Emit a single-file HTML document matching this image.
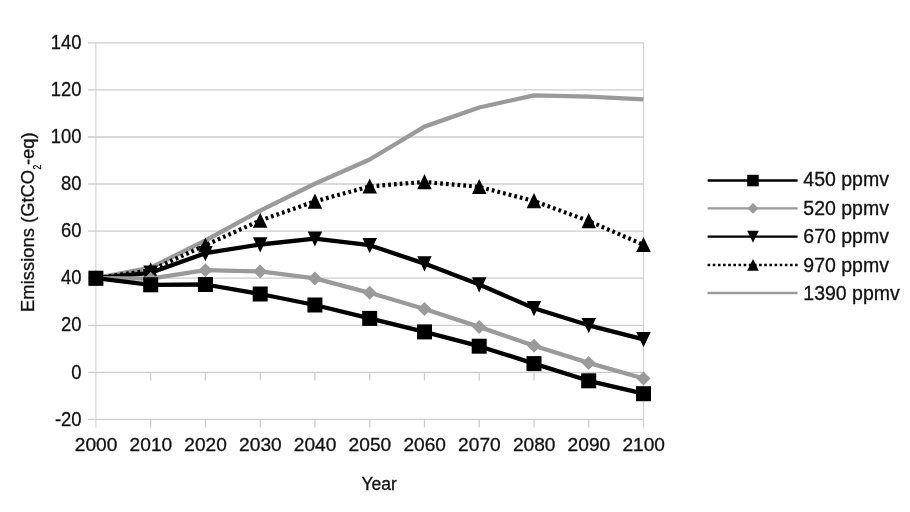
<!DOCTYPE html>
<html><head><meta charset="utf-8"><title>Emissions chart</title>
<style>html,body{margin:0;padding:0;background:#fff;}svg{display:block;will-change:transform;}text{stroke:#111;stroke-width:0.3px;}</style></head>
<body>
<svg width="910" height="512" viewBox="0 0 910 512" font-family="'Liberation Sans', sans-serif" fill="#111111">
<rect width="910" height="512" fill="#fff"/>
<line x1="88" x2="643.5" y1="419.4" y2="419.4" stroke="#cdcdcd" stroke-width="1.3"/>
<line x1="88" x2="643.5" y1="372.4" y2="372.4" stroke="#cdcdcd" stroke-width="1.3"/>
<line x1="88" x2="643.5" y1="325.3" y2="325.3" stroke="#cdcdcd" stroke-width="1.3"/>
<line x1="88" x2="643.5" y1="278.2" y2="278.2" stroke="#cdcdcd" stroke-width="1.3"/>
<line x1="88" x2="643.5" y1="231.1" y2="231.1" stroke="#cdcdcd" stroke-width="1.3"/>
<line x1="88" x2="643.5" y1="184.0" y2="184.0" stroke="#cdcdcd" stroke-width="1.3"/>
<line x1="88" x2="643.5" y1="137.0" y2="137.0" stroke="#cdcdcd" stroke-width="1.3"/>
<line x1="88" x2="643.5" y1="89.9" y2="89.9" stroke="#cdcdcd" stroke-width="1.3"/>
<line x1="88" x2="643.5" y1="42.8" y2="42.8" stroke="#cdcdcd" stroke-width="1.3"/>
<line x1="95.9" x2="95.9" y1="42.8" y2="427.4" stroke="#d0d0d3" stroke-width="1.1"/>
<line x1="643.5" x2="643.5" y1="42.8" y2="427.4" stroke="#d0d0d3" stroke-width="1.1"/>
<line x1="150.7" x2="150.7" y1="372.4" y2="380.4" stroke="#cdcdcd" stroke-width="1.3"/>
<line x1="150.7" x2="150.7" y1="419.4" y2="427.4" stroke="#cdcdcd" stroke-width="1.3"/>
<line x1="205.4" x2="205.4" y1="372.4" y2="380.4" stroke="#cdcdcd" stroke-width="1.3"/>
<line x1="205.4" x2="205.4" y1="419.4" y2="427.4" stroke="#cdcdcd" stroke-width="1.3"/>
<line x1="260.2" x2="260.2" y1="372.4" y2="380.4" stroke="#cdcdcd" stroke-width="1.3"/>
<line x1="260.2" x2="260.2" y1="419.4" y2="427.4" stroke="#cdcdcd" stroke-width="1.3"/>
<line x1="314.9" x2="314.9" y1="372.4" y2="380.4" stroke="#cdcdcd" stroke-width="1.3"/>
<line x1="314.9" x2="314.9" y1="419.4" y2="427.4" stroke="#cdcdcd" stroke-width="1.3"/>
<line x1="369.7" x2="369.7" y1="372.4" y2="380.4" stroke="#cdcdcd" stroke-width="1.3"/>
<line x1="369.7" x2="369.7" y1="419.4" y2="427.4" stroke="#cdcdcd" stroke-width="1.3"/>
<line x1="424.5" x2="424.5" y1="372.4" y2="380.4" stroke="#cdcdcd" stroke-width="1.3"/>
<line x1="424.5" x2="424.5" y1="419.4" y2="427.4" stroke="#cdcdcd" stroke-width="1.3"/>
<line x1="479.2" x2="479.2" y1="372.4" y2="380.4" stroke="#cdcdcd" stroke-width="1.3"/>
<line x1="479.2" x2="479.2" y1="419.4" y2="427.4" stroke="#cdcdcd" stroke-width="1.3"/>
<line x1="534.0" x2="534.0" y1="372.4" y2="380.4" stroke="#cdcdcd" stroke-width="1.3"/>
<line x1="534.0" x2="534.0" y1="419.4" y2="427.4" stroke="#cdcdcd" stroke-width="1.3"/>
<line x1="588.7" x2="588.7" y1="372.4" y2="380.4" stroke="#cdcdcd" stroke-width="1.3"/>
<line x1="588.7" x2="588.7" y1="419.4" y2="427.4" stroke="#cdcdcd" stroke-width="1.3"/>
<text transform="translate(81.6,425.5) scale(0.95,1.02)" font-size="19.4" text-anchor="end">-20</text>
<text transform="translate(81.6,378.5) scale(0.95,1.02)" font-size="19.4" text-anchor="end">0</text>
<text transform="translate(81.6,331.4) scale(0.95,1.02)" font-size="19.4" text-anchor="end">20</text>
<text transform="translate(81.6,284.3) scale(0.95,1.02)" font-size="19.4" text-anchor="end">40</text>
<text transform="translate(81.6,237.2) scale(0.95,1.02)" font-size="19.4" text-anchor="end">60</text>
<text transform="translate(81.6,190.1) scale(0.95,1.02)" font-size="19.4" text-anchor="end">80</text>
<text transform="translate(81.6,143.1) scale(0.95,1.02)" font-size="19.4" text-anchor="end">100</text>
<text transform="translate(81.6,96.0) scale(0.95,1.02)" font-size="19.4" text-anchor="end">120</text>
<text transform="translate(81.6,48.9) scale(0.95,1.02)" font-size="19.4" text-anchor="end">140</text>
<text x="96.1" y="451.3" font-size="19.15" text-anchor="middle">2000</text>
<text x="150.9" y="451.3" font-size="19.15" text-anchor="middle">2010</text>
<text x="205.6" y="451.3" font-size="19.15" text-anchor="middle">2020</text>
<text x="260.4" y="451.3" font-size="19.15" text-anchor="middle">2030</text>
<text x="315.1" y="451.3" font-size="19.15" text-anchor="middle">2040</text>
<text x="369.9" y="451.3" font-size="19.15" text-anchor="middle">2050</text>
<text x="424.7" y="451.3" font-size="19.15" text-anchor="middle">2060</text>
<text x="479.4" y="451.3" font-size="19.15" text-anchor="middle">2070</text>
<text x="534.2" y="451.3" font-size="19.15" text-anchor="middle">2080</text>
<text x="588.9" y="451.3" font-size="19.15" text-anchor="middle">2090</text>
<text x="643.7" y="451.3" font-size="19.15" text-anchor="middle">2100</text>
<text x="379.2" y="489.5" font-size="17.5" text-anchor="middle">Year</text>
<g transform="translate(34.2,311.9) rotate(-90)" font-size="18.4"><text x="0" y="0">Emissions (GtCO</text><text transform="translate(142.3,7) scale(0.8,1)" font-size="10.5">2</text><text x="146.8" y="0">-eq)</text></g>
<polyline points="95.9,278.2 150.7,267.6 205.4,240.5 260.2,210.6 314.9,183.8 369.7,159.5 424.5,126.6 479.2,107.5 534.0,95.3 588.7,96.7 643.5,99.3" fill="none" stroke="#9a9a9a" stroke-width="4.3" stroke-linejoin="round"/>
<polyline points="95.9,278.2 150.7,270.2 205.4,245.2 260.2,220.5 314.9,201.4 369.7,186.4 424.5,181.9 479.2,186.9 534.0,201.0 588.7,221.0 643.5,244.8" fill="none" stroke="#000" stroke-width="4.2" stroke-dasharray="2.75 3.05" stroke-dashoffset="-1.5" stroke-linejoin="round"/>
<path d="M88.7,285.4 L103.2,285.4 L95.9,270.3Z" fill="#000"/>
<path d="M143.4,277.4 L157.9,277.4 L150.7,262.3Z" fill="#000"/>
<path d="M198.2,252.5 L212.7,252.5 L205.4,237.4Z" fill="#000"/>
<path d="M252.9,227.8 L267.4,227.8 L260.2,212.7Z" fill="#000"/>
<path d="M307.7,208.7 L322.2,208.7 L314.9,193.6Z" fill="#000"/>
<path d="M362.5,193.6 L377.0,193.6 L369.7,178.5Z" fill="#000"/>
<path d="M417.2,189.2 L431.7,189.2 L424.5,174.1Z" fill="#000"/>
<path d="M472.0,194.1 L486.5,194.1 L479.2,179.0Z" fill="#000"/>
<path d="M526.7,208.2 L541.2,208.2 L534.0,193.1Z" fill="#000"/>
<path d="M581.5,228.2 L596.0,228.2 L588.7,213.1Z" fill="#000"/>
<path d="M636.2,252.0 L650.8,252.0 L643.5,236.9Z" fill="#000"/>
<polyline points="95.9,278.2 150.7,272.8 205.4,253.2 260.2,244.5 314.9,238.6 369.7,245.2 424.5,263.6 479.2,284.5 534.0,308.3 588.7,325.3 643.5,339.4" fill="none" stroke="#000" stroke-width="4.3" stroke-linejoin="round"/>
<path d="M88.7,270.9 L103.2,270.9 L95.9,286.1Z" fill="#000"/>
<path d="M143.4,265.5 L157.9,265.5 L150.7,280.7Z" fill="#000"/>
<path d="M198.2,246.0 L212.7,246.0 L205.4,261.2Z" fill="#000"/>
<path d="M252.9,237.3 L267.4,237.3 L260.2,252.5Z" fill="#000"/>
<path d="M307.7,231.4 L322.2,231.4 L314.9,246.6Z" fill="#000"/>
<path d="M362.5,238.0 L377.0,238.0 L369.7,253.2Z" fill="#000"/>
<path d="M417.2,256.3 L431.7,256.3 L424.5,271.5Z" fill="#000"/>
<path d="M472.0,277.3 L486.5,277.3 L479.2,292.5Z" fill="#000"/>
<path d="M526.7,301.1 L541.2,301.1 L534.0,316.3Z" fill="#000"/>
<path d="M581.5,318.0 L596.0,318.0 L588.7,333.2Z" fill="#000"/>
<path d="M636.2,332.1 L650.8,332.1 L643.5,347.3Z" fill="#000"/>
<polyline points="95.9,278.2 150.7,278.7 205.4,270.2 260.2,271.4 314.9,278.4 369.7,292.8 424.5,309.0 479.2,326.9 534.0,345.7 588.7,362.9 643.5,378.5" fill="none" stroke="#9a9a9a" stroke-width="4.3" stroke-linejoin="round"/>
<path d="M95.9,271.2 L102.9,278.2 L95.9,285.2 L88.9,278.2Z" fill="#9a9a9a"/>
<path d="M150.7,271.7 L157.7,278.7 L150.7,285.7 L143.7,278.7Z" fill="#9a9a9a"/>
<path d="M205.4,263.2 L212.4,270.2 L205.4,277.2 L198.4,270.2Z" fill="#9a9a9a"/>
<path d="M260.2,264.4 L267.2,271.4 L260.2,278.4 L253.2,271.4Z" fill="#9a9a9a"/>
<path d="M314.9,271.4 L321.9,278.4 L314.9,285.4 L307.9,278.4Z" fill="#9a9a9a"/>
<path d="M369.7,285.8 L376.7,292.8 L369.7,299.8 L362.7,292.8Z" fill="#9a9a9a"/>
<path d="M424.5,302.0 L431.5,309.0 L424.5,316.0 L417.5,309.0Z" fill="#9a9a9a"/>
<path d="M479.2,319.9 L486.2,326.9 L479.2,333.9 L472.2,326.9Z" fill="#9a9a9a"/>
<path d="M534.0,338.7 L541.0,345.7 L534.0,352.7 L527.0,345.7Z" fill="#9a9a9a"/>
<path d="M588.7,355.9 L595.7,362.9 L588.7,369.9 L581.7,362.9Z" fill="#9a9a9a"/>
<path d="M643.5,371.5 L650.5,378.5 L643.5,385.5 L636.5,378.5Z" fill="#9a9a9a"/>
<polyline points="95.9,278.2 150.7,284.8 205.4,284.5 260.2,294.0 314.9,305.0 369.7,318.4 424.5,331.9 479.2,346.2 534.0,363.6 588.7,380.8 643.5,393.7" fill="none" stroke="#000" stroke-width="4.3" stroke-linejoin="round"/>
<rect x="88.4" y="270.7" width="15" height="15" fill="#000"/>
<rect x="143.2" y="277.3" width="15" height="15" fill="#000"/>
<rect x="197.9" y="277.0" width="15" height="15" fill="#000"/>
<rect x="252.7" y="286.5" width="15" height="15" fill="#000"/>
<rect x="307.4" y="297.5" width="15" height="15" fill="#000"/>
<rect x="362.2" y="310.9" width="15" height="15" fill="#000"/>
<rect x="417.0" y="324.4" width="15" height="15" fill="#000"/>
<rect x="471.7" y="338.7" width="15" height="15" fill="#000"/>
<rect x="526.5" y="356.1" width="15" height="15" fill="#000"/>
<rect x="581.2" y="373.3" width="15" height="15" fill="#000"/>
<rect x="636.0" y="386.2" width="15" height="15" fill="#000"/>
<line x1="707.6" x2="797.6" y1="180.5" y2="180.5" stroke="#000" stroke-width="2.4"/>
<rect x="747.2" y="174.8" width="11.5" height="11.5" fill="#000"/>
<line x1="707.6" x2="797.6" y1="208.4" y2="208.4" stroke="#9a9a9a" stroke-width="2.4"/>
<path d="M753.0,203.0 L758.4,208.4 L753.0,213.8 L747.6,208.4Z" fill="#9a9a9a"/>
<line x1="707.6" x2="797.6" y1="236.6" y2="236.6" stroke="#000" stroke-width="2.4"/>
<path d="M747.2,230.8 L758.8,230.8 L753.0,242.7Z" fill="#000"/>
<line x1="707.6" x2="797.6" y1="265.0" y2="265.0" stroke="#000" stroke-width="2.4" stroke-dasharray="2.6 2.55"/>
<path d="M747.2,270.8 L758.8,270.8 L753.0,258.9Z" fill="#000"/>
<line x1="707.6" x2="797.6" y1="293.0" y2="293.0" stroke="#9a9a9a" stroke-width="2.4"/>
<text x="803.3" y="186.3" font-size="19.5">450 ppmv</text>
<text x="803.3" y="214.8" font-size="19.5">520 ppmv</text>
<text x="803.3" y="243.2" font-size="19.5">670 ppmv</text>
<text x="803.3" y="271.7" font-size="19.5">970 ppmv</text>
<text x="803.3" y="299.6" font-size="19.5">1390 ppmv</text>
</svg>
</body></html>
